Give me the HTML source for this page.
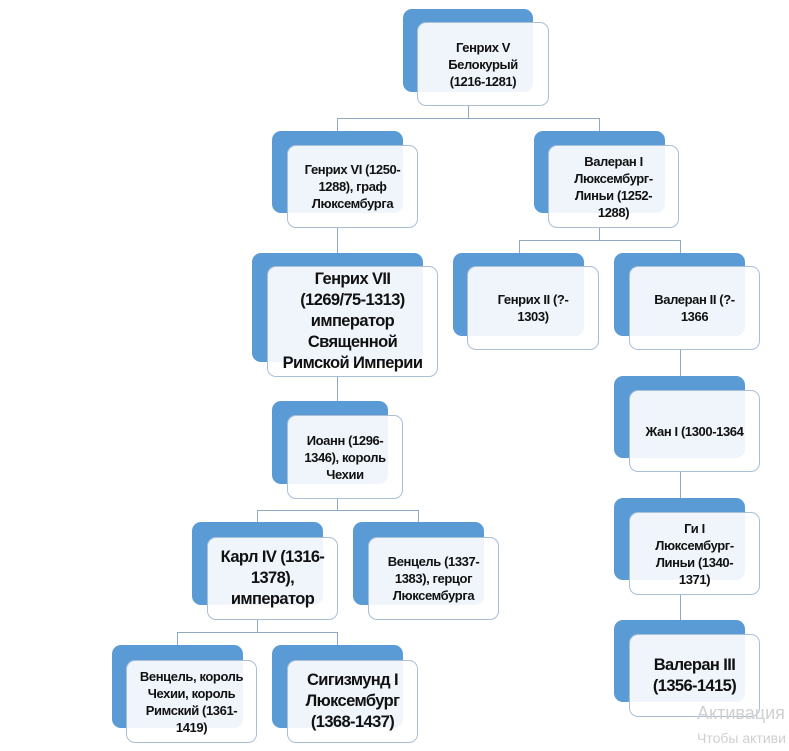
<!DOCTYPE html>
<html><head><meta charset="utf-8"><style>
body{margin:0;width:789px;height:751px;background:#fff;position:relative;overflow:hidden;font-family:"Liberation Sans","DejaVu Sans",sans-serif;}
.b{position:absolute;background:#5b9bd5;border-radius:9px;}
.f{position:absolute;background:rgba(255,255,255,0.9);border:1.3px solid #a9bfd6;border-radius:9px;box-sizing:border-box;display:flex;align-items:center;justify-content:center;text-align:center;font-weight:bold;color:#111;font-size:13px;line-height:17px;letter-spacing:-0.4px;padding:0 4px;}
.big{font-size:16.5px;line-height:21px;letter-spacing:-0.6px;}
.l{position:absolute;background:#8fa9c4;}
.h{height:1px}.v{width:1px}
.w{position:absolute;color:#d0d0d0;font-family:"Liberation Sans",sans-serif;}
</style></head><body>
<div class="l v" style="left:468px;top:106px;height:12px"></div>
<div class="l h" style="left:337px;top:118px;width:263px"></div>
<div class="l v" style="left:337px;top:118px;height:13px"></div>
<div class="l v" style="left:599px;top:118px;height:13px"></div>
<div class="l v" style="left:337px;top:228px;height:25px"></div>
<div class="l v" style="left:599px;top:228px;height:12px"></div>
<div class="l h" style="left:519px;top:240px;width:162px"></div>
<div class="l v" style="left:519px;top:240px;height:13px"></div>
<div class="l v" style="left:680px;top:240px;height:13px"></div>
<div class="l v" style="left:337px;top:377px;height:24px"></div>
<div class="l v" style="left:337px;top:499px;height:11px"></div>
<div class="l h" style="left:257px;top:510px;width:162px"></div>
<div class="l v" style="left:257px;top:510px;height:12px"></div>
<div class="l v" style="left:418px;top:510px;height:12px"></div>
<div class="l v" style="left:257px;top:620px;height:12px"></div>
<div class="l h" style="left:177px;top:632px;width:161px"></div>
<div class="l v" style="left:177px;top:632px;height:13px"></div>
<div class="l v" style="left:337px;top:632px;height:13px"></div>
<div class="l v" style="left:680px;top:350px;height:26px"></div>
<div class="l v" style="left:680px;top:472px;height:26px"></div>
<div class="l v" style="left:680px;top:595px;height:25px"></div>

<div class="b" style="left:403px;top:9px;width:130px;height:83px"></div>
<div class="f" style="left:417px;top:22px;width:132px;height:84px">Генрих V<br>Белокурый<br>(1216-1281)</div>

<div class="b" style="left:272px;top:131px;width:131px;height:82px"></div>
<div class="f" style="left:287px;top:145px;width:131px;height:83px">Генрих VI (1250-<br>1288), граф<br>Люксембурга</div>

<div class="b" style="left:534px;top:131px;width:131px;height:82px"></div>
<div class="f" style="left:548px;top:145px;width:131px;height:83px">Валеран I<br>Люксембург-<br>Линьи (1252-<br>1288)</div>

<div class="b" style="left:252px;top:253px;width:171px;height:109px"></div>
<div class="f big" style="left:267px;top:266px;width:171px;height:111px">Генрих VII<br>(1269/75-1313)<br>император<br>Священной<br>Римской Империи</div>

<div class="b" style="left:453px;top:253px;width:131px;height:83px"></div>
<div class="f" style="left:467px;top:266px;width:132px;height:84px">Генрих II (?-<br>1303)</div>

<div class="b" style="left:614px;top:253px;width:131px;height:83px"></div>
<div class="f" style="left:629px;top:266px;width:131px;height:84px">Валеран II (?-<br>1366</div>

<div class="b" style="left:272px;top:401px;width:116px;height:83px"></div>
<div class="f" style="left:287px;top:415px;width:116px;height:84px">Иоанн (1296-<br>1346), король<br>Чехии</div>

<div class="b" style="left:614px;top:376px;width:131px;height:82px"></div>
<div class="f" style="left:629px;top:390px;width:131px;height:82px">Жан I (1300-1364</div>

<div class="b" style="left:192px;top:522px;width:131px;height:83px"></div>
<div class="f big" style="left:207px;top:537px;width:131px;height:83px">Карл IV (1316-<br>1378),<br>император</div>

<div class="b" style="left:353px;top:522px;width:131px;height:83px"></div>
<div class="f" style="left:368px;top:537px;width:131px;height:83px">Венцель (1337-<br>1383), герцог<br>Люксембурга</div>

<div class="b" style="left:614px;top:498px;width:131px;height:82px"></div>
<div class="f" style="left:629px;top:512px;width:131px;height:83px">Ги I<br>Люксембург-<br>Линьи (1340-<br>1371)</div>

<div class="b" style="left:112px;top:645px;width:131px;height:83px"></div>
<div class="f" style="left:126px;top:660px;width:131px;height:83px">Венцель, король<br>Чехии, король<br>Римский (1361-<br>1419)</div>

<div class="b" style="left:272px;top:645px;width:131px;height:83px"></div>
<div class="f big" style="left:287px;top:660px;width:131px;height:83px">Сигизмунд I<br>Люксембург<br>(1368-1437)</div>

<div class="b" style="left:614px;top:620px;width:131px;height:82px"></div>
<div class="f big" style="left:629px;top:634px;width:131px;height:83px">Валеран III<br>(1356-1415)</div>

<div class="w" style="left:697px;top:703px;font-size:18px">Активация</div>
<div class="w" style="left:697px;top:730px;font-size:14px">Чтобы активи</div>
</body></html>
